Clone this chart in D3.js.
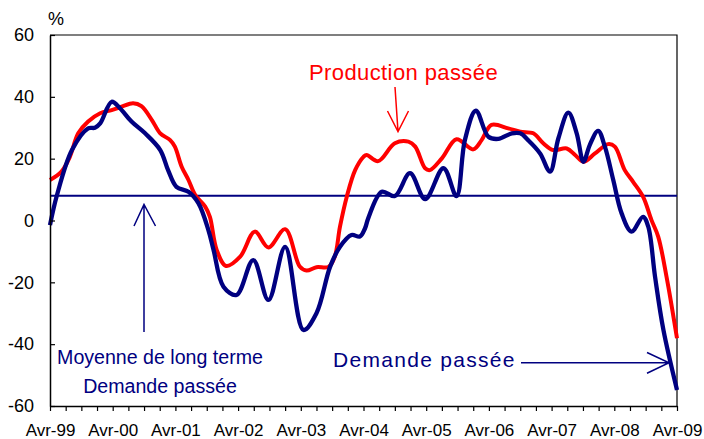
<!DOCTYPE html>
<html><head><meta charset="utf-8">
<script src="https://cdn.jsdelivr.net/npm/d3@7"></script>
<style>
html,body{margin:0;padding:0;background:#fff;}
svg{display:block;font-family:"Liberation Sans",Arial,sans-serif;}
</style></head>
<body>
<svg id="chart" width="704" height="439"></svg>
<script>
// months since April 1999
const demandeMonths = [0,1.3,4.2,7.3,8.6,9.6,11.8,13.4,15.6,18.2,21.1,22.6,24.2,26.5,28.4,30.3,31.3,33.2,35.7,38.9,41.8,45,48.5,51,53.6,55.5,57.7,59.3,60.3,60.9,63.5,66,68.9,71.8,75.3,77.8,79.4,81.5,83.9,85.8,88.4,90,91.5,93.8,95.7,97.3,99.2,100.8,102.1,103.3,104.9,106.2,107.8,109.4,111.3,113.5,114.5,115.8,117.4,120];
const demandeValues = [-1.5,8,22.8,29.8,30,31.4,38.4,36.3,32,28.2,22.8,16.3,10.9,9.3,5.6,-3,-9.5,-21.4,-24.1,-12.8,-25.7,-8.5,-35.4,-30,-15,-8.5,-4.7,-5.2,-2.5,0.7,9.3,7.9,15.3,6.9,16.9,7.9,26,35.5,27.1,26.4,28.2,28.2,26,21.7,15.8,26.6,34.9,28.2,19,24.4,29,23.9,13.1,2.3,-3.6,1.2,-2,-18.2,-35.4,-54.8];
const productionMonths = [0,2.2,3.8,5.4,7.3,9.6,11.8,13.7,15.9,17.5,19.5,21.1,23,23.9,25.2,26.5,27.8,29.7,30.6,31.9,33.7,36.4,39.2,41.8,45,47.8,49.1,51,53.3,54.5,55.5,56.8,58.4,60,60.6,62.8,66,68.6,69.9,71.8,72.7,75,77.8,81,82.6,84.5,87.7,90,92.5,94.4,96.3,98.9,100.5,102.1,104.3,106.8,108.1,110,111.6,113.5,115.1,116.4,118,120];
const productionValues = [13.1,15.8,20.6,28.2,32,34.7,35.7,36.8,37.9,37,32.5,28.2,26,23.9,17.4,13.1,8.2,4.5,1.2,-9.5,-14.7,-11.7,-3.6,-8.7,-2.8,-14.9,-16.2,-15.1,-15,-11.7,-2,7.7,16.3,20.6,21.2,19.2,25,25.5,23.9,16.9,16.3,20.1,26.3,23,26,30.9,29.8,28.7,28.2,25,22.8,23.3,21.2,19,21.7,24.7,23.9,16.3,12.5,7.7,0.2,-5.2,-18.2,-38.1];
const moyenneLongTerme = 8;
const xTickLabels = ["Avr-99","Avr-00","Avr-01","Avr-02","Avr-03","Avr-04","Avr-05","Avr-06","Avr-07","Avr-08","Avr-09"];
const yTicks = [-60,-40,-20,0,20,40,60];

const svg = d3.select("#chart");
const L = 50, R = 677, T = 35, B = 406;
const x = d3.scaleLinear().domain([0,120]).range([L,R]);
const y = d3.scaleLinear().domain([-60,60]).range([B,T]);
const navy = "#000080", red = "#FF0000";

// frame (top & right)
svg.append("path").attr("d",`M${L},${T}H${R}V${B}`).attr("fill","none").attr("stroke","#000").attr("stroke-width",1.2);

// long term average line
svg.append("line").attr("x1",L).attr("x2",R).attr("y1",y(moyenneLongTerme)).attr("y2",y(moyenneLongTerme))
  .attr("stroke",navy).attr("stroke-width",1.8);

const line = d3.line().curve(d3.curveCatmullRom.alpha(0.5)).x(d=>x(d[0])).y(d=>y(d[1]));
svg.append("path").datum(productionMonths.map((m,i)=>[m,productionValues[i]]))
  .attr("d",line).attr("fill","none").attr("stroke",red).attr("stroke-width",4).attr("stroke-linejoin","round");
svg.append("path").datum(demandeMonths.map((m,i)=>[m,demandeValues[i]]))
  .attr("d",line).attr("fill","none").attr("stroke",navy).attr("stroke-width",4.3).attr("stroke-linejoin","round");

// y axis
const yAxis = svg.append("g").attr("transform",`translate(${L},0)`)
  .call(d3.axisLeft(y).tickValues(yTicks).tickSizeInner(-5).tickSizeOuter(0).tickPadding(16).tickFormat(d => String(d)));
yAxis.select(".domain").attr("stroke","#000").attr("stroke-width",1.5);
yAxis.selectAll(".tick line").attr("stroke","#000").attr("stroke-width",1.2);
yAxis.selectAll(".tick text").attr("font-size",18).attr("fill","#000").attr("font-family","Liberation Sans, Arial, sans-serif");

// x axis
const xAxis = svg.append("g").attr("transform",`translate(0,${B})`)
  .call(d3.axisBottom(x).tickValues(d3.range(0,121,3)).tickSize(5).tickSizeOuter(0)
    .tickFormat(d => d % 12 === 0 ? xTickLabels[d/12] : ""));
xAxis.select(".domain").attr("stroke","#000").attr("stroke-width",1.5);
xAxis.selectAll(".tick line").attr("stroke","#000").attr("stroke-width",1.2);
xAxis.selectAll(".tick text").attr("font-size",17).attr("fill","#000").attr("dy",0).attr("y",30)
  .attr("font-family","Liberation Sans, Arial, sans-serif");

// % label
svg.append("text").attr("x",48).attr("y",25).attr("font-size",18).text("%");

// Production passée annotation
svg.append("text").attr("x",309).attr("y",80).attr("font-size",22).attr("letter-spacing",0.4).attr("fill",red).text("Production passée");
svg.append("path").attr("d","M395,87L398,131.5M387.5,111L398,131.5L408.5,111")
  .attr("fill","none").attr("stroke",red).attr("stroke-width",1.5);

// Moyenne arrow
svg.append("path").attr("d","M144,332V204.5M134,226L144,204.5L155.5,226")
  .attr("fill","none").attr("stroke",navy).attr("stroke-width",1.5);
svg.append("text").attr("x",160).attr("y",364).attr("text-anchor","middle").attr("font-size",19.6).attr("fill",navy).text("Moyenne de long terme");
svg.append("text").attr("x",160).attr("y",392.5).attr("text-anchor","middle").attr("font-size",19.6).attr("fill",navy).text("Demande passée");

// Demande passée arrow
svg.append("text").attr("x",333).attr("y",366.5).attr("font-size",21).attr("letter-spacing",1.3).attr("fill",navy).text("Demande passée");
svg.append("path").attr("d","M521,362.7H669M647,352.5L669,362.7L647,373.3")
  .attr("fill","none").attr("stroke",navy).attr("stroke-width",1.5);
</script>
</body></html>
